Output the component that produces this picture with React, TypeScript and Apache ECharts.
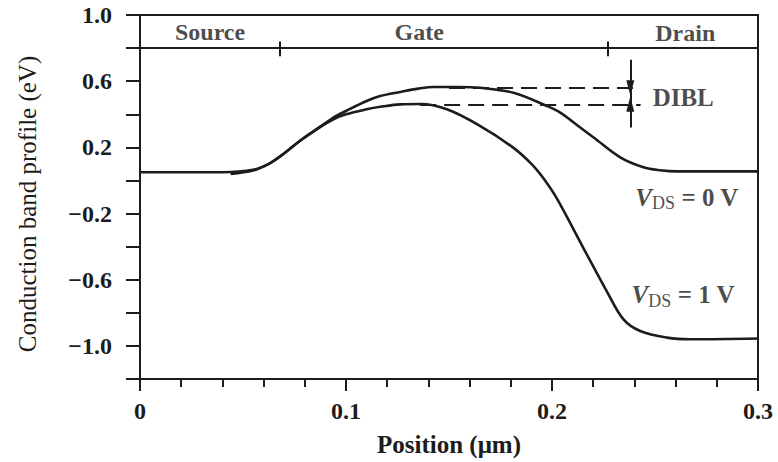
import React, { useEffect, useRef } from 'react';
import * as echarts from 'echarts';

// Position along the channel (µm) and conduction band energy (eV)
const positionVds0 = [0, 0.04, 0.055, 0.0625, 0.0696, 0.0777, 0.0858, 0.0939, 0.1, 0.11, 0.1166, 0.1263, 0.135, 0.1425, 0.155, 0.165, 0.1813, 0.1975, 0.204, 0.2137, 0.2202, 0.2331, 0.2444, 0.2525, 0.2607, 0.3];
const energyVds0 = [0.05, 0.05, 0.065, 0.1, 0.16, 0.24, 0.31, 0.38, 0.42, 0.48, 0.51, 0.535, 0.555, 0.565, 0.565, 0.56, 0.53, 0.45, 0.41, 0.32, 0.26, 0.14, 0.08, 0.062, 0.055, 0.055];

const positionVds1 = [0.044, 0.055, 0.0625, 0.0696, 0.0777, 0.0858, 0.0939, 0.1, 0.11, 0.1166, 0.1263, 0.136, 0.149, 0.165, 0.181, 0.19, 0.196, 0.2024, 0.2153, 0.2266, 0.2347, 0.2428, 0.2558, 0.267, 0.3];
const energyVds1 = [0.04, 0.06, 0.1, 0.16, 0.24, 0.31, 0.37, 0.4, 0.43, 0.445, 0.46, 0.462, 0.43, 0.33, 0.2, 0.1, 0.01, -0.11, -0.41, -0.67, -0.84, -0.91, -0.95, -0.96, -0.955];

// Barrier heights (eV) used for the DIBL annotation
const barrierVds0 = 0.56;
const barrierVds1 = 0.46;

// Device regions
const regionNames = ['Source', 'Gate', 'Drain'];
const regionBoundaries = [0.068, 0.2273];
const regionLevel = 0.8;

const yLabelValues = [-1.0, -0.6, -0.2, 0.2, 0.6, 1.0];

const FONT = "'Liberation Serif', 'Times New Roman', serif";
const INK = '#1c1c1c';

function buildOption() {
  const toPairs = (xs: number[], ys: number[]) => xs.map((x, i) => [x, ys[i]]);

  const dash = { type: [16, 8], width: 2.2, color: INK };
  const segments: any[] = [];
  // region band line
  segments.push([{ coord: [0, regionLevel] }, { coord: [0.3, regionLevel] }]);
  regionBoundaries.forEach((b) => {
    segments.push([{ coord: [b, regionLevel + 0.04] }, { coord: [b, regionLevel - 0.05] }]);
  });
  // dashed barrier lines
  segments.push([
    { coord: [0.15, barrierVds0], lineStyle: dash },
    { coord: [0.243, barrierVds0] },
  ]);
  segments.push([
    { coord: [0.136, barrierVds1], lineStyle: dash },
    { coord: [0.243, barrierVds1] },
  ]);
  // DIBL arrows
  segments.push([
    { coord: [0.238, 0.73], symbol: 'none' },
    { coord: [0.238, barrierVds0], symbol: 'triangle', symbolSize: [8, 15] },
  ]);
  segments.push([
    { coord: [0.238, 0.32], symbol: 'none' },
    { coord: [0.238, barrierVds1], symbol: 'triangle', symbolSize: [8, 15] },
  ]);
  segments.push([{ coord: [0.238, barrierVds0] }, { coord: [0.238, barrierVds1] }]);

  const regionLabelPos = [
    [0.034, 0.9],
    [0.1355, 0.9],
    [0.2647, 0.89],
  ];

  return {
    animation: false,
    backgroundColor: '#ffffff',
    grid: {
      left: 140,
      right: 20,
      top: 15,
      bottom: 81,
      show: true,
      borderColor: INK,
      borderWidth: 2,
    },
    xAxis: {
      type: 'value',
      min: 0,
      max: 0.3,
      interval: 0.1,
      axisLine: { show: true, onZero: false, lineStyle: { color: INK, width: 2 } },
      axisTick: { show: true, length: 12, lineStyle: { color: INK, width: 2 } },
      minorTick: { show: true, splitNumber: 5, length: 8, lineStyle: { color: INK, width: 2 } },
      splitLine: { show: false },
      minorSplitLine: { show: false },
      axisLabel: {
        margin: 20,
        fontFamily: FONT,
        fontSize: 24,
        fontWeight: 'bold',
        color: INK,
        formatter: (v: number) => (v === 0 ? '0' : v.toFixed(1)),
      },
      name: 'Position (μm)',
      nameLocation: 'middle',
      nameGap: 53,
      nameTextStyle: { fontFamily: FONT, fontSize: 25, fontWeight: 'bold', color: INK },
    },
    yAxis: {
      type: 'value',
      min: -1.2,
      max: 1.0,
      interval: 0.2,
      axisLine: { show: true, onZero: false, lineStyle: { color: INK, width: 2 } },
      axisTick: { show: true, length: 14, lineStyle: { color: INK, width: 2 } },
      splitLine: { show: false },
      axisLabel: {
        margin: 28,
        fontFamily: FONT,
        fontSize: 24,
        fontWeight: 'bold',
        color: INK,
        formatter: (v: number) => {
          const hit = yLabelValues.find((t) => Math.abs(t - v) < 1e-6);
          if (hit === undefined) return '';
          return (hit < 0 ? '\u2212' : '') + Math.abs(hit).toFixed(1);
        },
      },
      name: 'Conduction band profile (eV)',
      nameLocation: 'middle',
      nameGap: 100,
      nameTextStyle: { fontFamily: FONT, fontSize: 25, color: INK, padding: [0, 14, 0, 0] },
    },
    series: [
      {
        type: 'line',
        name: 'VDS = 0 V',
        data: toPairs(positionVds0, energyVds0),
        showSymbol: false,
        smooth: 0.35,
        lineStyle: { color: INK, width: 2.6 },
        silent: true,
        z: 3,
      },
      {
        type: 'line',
        name: 'VDS = 1 V',
        data: toPairs(positionVds1, energyVds1),
        showSymbol: false,
        smooth: 0.35,
        lineStyle: { color: INK, width: 2.6 },
        silent: true,
        z: 3,
      },
      {
        type: 'line',
        data: [],
        silent: true,
        markLine: {
          silent: true,
          symbol: 'none',
          label: { show: false },
          lineStyle: { color: INK, width: 2, type: 'solid' },
          emphasis: { disabled: true },
          data: segments,
        },
      },
      {
        type: 'scatter',
        silent: true,
        symbolSize: 0,
        data: regionNames.map((n, i) => ({ name: n, value: regionLabelPos[i] })),
        label: {
          show: true,
          position: 'inside',
          formatter: '{b}',
          fontFamily: FONT,
          fontSize: 24,
          fontWeight: 'bold',
          color: INK,
        },
      },
      {
        type: 'scatter',
        silent: true,
        symbolSize: 0,
        data: [
          { name: 'DIBL', value: [0.2637, 0.5] },
          { name: 'v0', value: [0.2655, -0.1] },
          { name: 'v1', value: [0.2637, -0.69] },
        ],
        label: {
          show: true,
          position: 'inside',
          color: INK,
          fontFamily: FONT,
          formatter: (p: any) => {
            if (p.name === 'DIBL') return '{d|DIBL}';
            if (p.name === 'v0') return '{v|V}{s|DS}{t| = 0 V}';
            return '{v|V}{s|DS}{t| = 1 V}';
          },
          rich: {
            d: { fontFamily: FONT, fontSize: 25, fontWeight: 'bold', color: INK },
            v: { fontFamily: FONT, fontSize: 25, fontStyle: 'italic', fontWeight: 'bold', color: INK },
            s: { fontFamily: FONT, fontSize: 18, color: INK, padding: [12, 0, 0, 0] },
            t: { fontFamily: FONT, fontSize: 25, fontWeight: 'bold', color: INK },
          },
        },
      },
    ],
  };
}

export default function App() {
  const ref = useRef<HTMLDivElement>(null);
  useEffect(() => {
    if (!ref.current) return;
    const chart = echarts.init(ref.current, null, { renderer: 'svg' });
    chart.setOption(buildOption() as any);
    return () => chart.dispose();
  }, []);
  return (
    <div
      ref={ref}
      style={{ position: 'fixed', left: 0, top: 0, width: 778, height: 462, background: '#fff' }}
    />
  );
}
